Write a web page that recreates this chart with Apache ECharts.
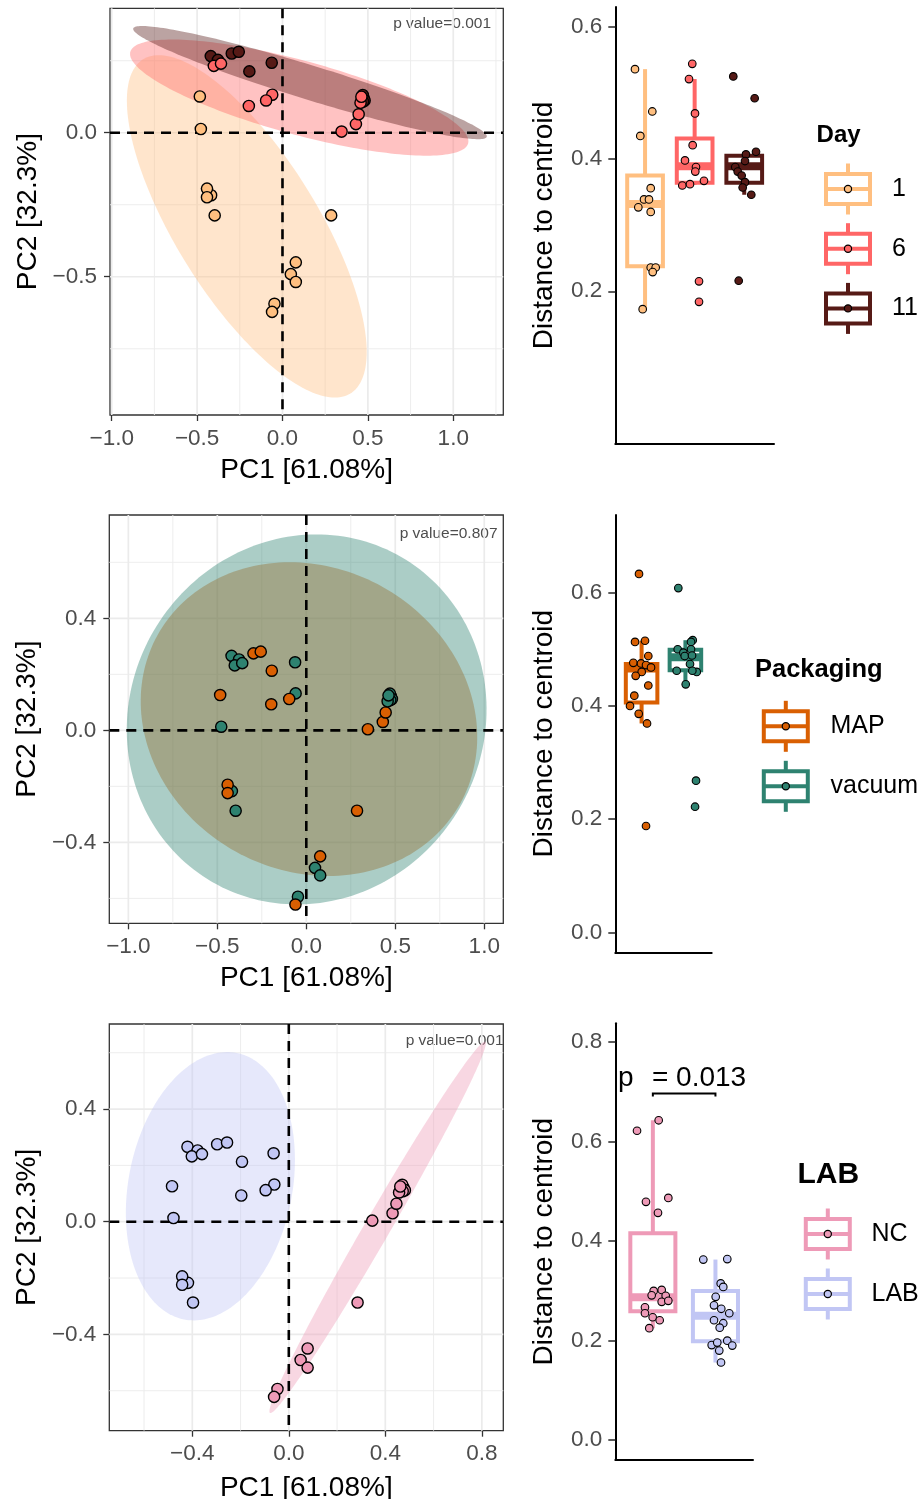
<!DOCTYPE html>
<html>
<head>
<meta charset="utf-8">
<title>PCA and distance to centroid</title>
<script src="https://cdn.jsdelivr.net/npm/echarts@6.0.0/dist/echarts.min.js"></script>
<style>
html, body { margin:0; padding:0; background:#fff; }
#chart { width:924px; height:1499px; }
</style>
</head>
<body>
<div id="chart"></div>
<script>
// ================= DATA =================
// PCA scores of the samples (PC1, PC2)
const pc1 = [-0.420,-0.378,-0.402,-0.360,-0.297,-0.256,-0.063,-0.194,-0.484,-0.060,-0.096,-0.197,-0.478,-0.418,-0.442,-0.442,-0.397,
             0.285,0.078,0.049,0.078,-0.047,-0.061,0.346,0.430,0.446,
             0.475,0.466,0.470,0.481,0.472,0.457,0.462];
const pc2 = [0.266,0.253,0.232,0.240,0.275,0.281,0.243,0.213,0.126,0.132,0.112,0.093,0.013,-0.217,-0.194,-0.224,-0.287,
             -0.287,-0.450,-0.491,-0.518,-0.594,-0.622,0.004,0.030,0.064,
             0.122,0.118,0.131,0.112,0.108,0.104,0.125];
// group of every sample (index into the level lists)
const sampleDay  = [2,2,1,1,2,2,2,2,0,1,1,1,0,0,0,0,0, 0,0,0,0,0,0,1,1,1, 2,2,2,2,2,1,1];
const samplePack = [1,1,1,1,0,0,1,0,0,1,0,0,1,1,0,0,1, 0,0,1,1,1,0,0,0,0, 0,0,1,1,1,1,1];
const sampleLab  = [1,1,1,1,1,1,1,1,1,1,1,1,1,1,1,1,1, 0,0,0,0,0,0,0,0,0, 0,0,0,0,0,0,0];

const dayLevels  = ['1', '6', '11'];
const packLevels = ['MAP', 'vacuum'];
const labLevels  = ['NC', 'LAB'];

const dayColors  = ['#FFBF80', '#FF6666', '#561A16'];
const packColors = ['#D95F02', '#2E8270'];
const labColors  = ['#EE9AB7', '#C1C6F4'];

// confidence ellipses: [cx, cy, ax, ay, bx, by] (centre + two conjugate semi-axes, PC units)
const dayEllipses = [
  [-0.209, -0.325, 0.607, -0.580, -0.353, -0.130],
  [ 0.098,  0.122, 0.989, -0.159, -0.057, -0.124],
  [ 0.161,  0.174, 1.035, -0.188, -0.029, -0.057]
];
const packEllipses = [
  [0.015, 0.040, 0.851, -0.300, -0.412, -0.473],
  [0.002, 0.039, 0.558,  0.570,  0.843, -0.334]
];
const labEllipses = [
  [ 0.368, -0.020, 0.446, 0.659, 0.046, -0.023],
  [-0.325,  0.126, 0.109, 0.473, 0.333, -0.056]
];

const pcaPValues = ['p value=0.001', 'p value=0.807', 'p value=0.001'];

// axis extents and ticks of the PCA panels
const pcaXRange = [[-1.010, 1.293], [-1.107, 1.107], [-0.744, 0.889]];
const pcaYRange = [[-0.980, 0.432], [-0.689, 0.769], [-0.742, 0.702]];
const pcaXMajor = [[-1, -0.5, 0, 0.5, 1], [-1, -0.5, 0, 0.5, 1], [-0.4, 0, 0.4, 0.8]];
const pcaXMinor = [[-0.75, -0.25, 0.25, 0.75, 1.25], [-0.75, -0.25, 0.25, 0.75], [-0.6, -0.2, 0.2, 0.6]];
const pcaYMajor = [[-0.5, 0], [-0.4, 0, 0.4], [-0.4, 0, 0.4]];
const pcaYMinor = [[-0.75, -0.25, 0.25], [-0.6, -0.2, 0.2, 0.6], [-0.6, -0.2, 0.2, 0.6]];

// distance to centroid: box statistics [lower whisker, Q1, median, Q3, upper whisker]
const dayBox  = [[0.173, 0.238, 0.332, 0.375, 0.536], [0.361, 0.364, 0.389, 0.431, 0.521], [0.346, 0.364, 0.389, 0.405, 0.411]];
const packBox = [[0.369, 0.406, 0.466, 0.474, 0.515], [0.438, 0.463, 0.486, 0.499, 0.516]];
const labBox  = [[0.225, 0.259, 0.287, 0.416, 0.643], [0.156, 0.199, 0.250, 0.300, 0.363]];

// individual distances and their jittered x position (category units)
const dayDist = [
  [0.536,0.472,0.435,0.356,0.339,0.339,0.327,0.320,0.236,0.236,0.229,0.173],
  [0.544,0.521,0.469,0.421,0.398,0.388,0.381,0.360,0.362,0.367,0.215,0.184],
  [0.525,0.492,0.411,0.407,0.397,0.388,0.381,0.375,0.365,0.357,0.346,0.216]
];
const dayJit = [
  [0.797,1.146,0.904,1.114,0.979,1.079,0.864,1.114,1.114,1.214,1.154,0.952],
  [1.952,1.886,2.007,1.960,1.805,2.027,2.013,1.751,1.906,2.188,2.088,2.088],
  [2.779,3.210,3.237,3.035,3.015,2.819,2.868,2.948,3.015,2.968,3.142,2.888]
];
const packDist = [
  [0.633,0.513,0.515,0.488,0.476,0.475,0.472,0.468,0.460,0.453,0.436,0.418,0.400,0.386,0.369,0.188],
  [0.608,0.516,0.513,0.500,0.500,0.494,0.488,0.489,0.474,0.462,0.460,0.462,0.438,0.268,0.222]
];
const packJit = [
  [0.941,0.850,1.078,1.153,0.811,0.987,1.101,1.215,1.002,0.865,1.153,0.834,0.736,0.934,1.124,1.101],
  [1.838,2.167,2.128,1.824,2.128,1.953,1.984,2.151,2.105,1.801,2.258,2.158,2.007,2.242,2.220]
];
const labDist = [
  [0.643,0.622,0.479,0.487,0.457,0.300,0.302,0.291,0.290,0.278,0.280,0.267,0.255,0.247,0.241,0.225],
  [0.363,0.364,0.315,0.308,0.288,0.271,0.264,0.255,0.241,0.235,0.226,0.200,0.191,0.196,0.190,0.180,0.156]
];
const labJit = [
  [1.093,0.747,0.890,1.247,1.082,1.013,1.141,0.981,1.205,1.141,1.247,0.874,0.874,0.997,1.109,0.943],
  [1.806,2.189,2.084,2.125,2.004,1.977,2.093,2.221,1.977,2.125,2.068,2.189,1.940,2.029,2.269,2.061,2.089]
];
const boxYRange = [[-0.031, 0.630], [-0.035, 0.737], [-0.040, 0.838]];
const boxYTicks = [[0.2, 0.4, 0.6], [0, 0.2, 0.4, 0.6], [0, 0.2, 0.4, 0.6, 0.8]];
const boxXRange = [[0.4, 3.6], [0.4, 2.6], [0.4, 2.6]];

// Wilcoxon test between NC and LAB
const labTest = { from: 1, to: 2, y: 0.697, tickDrop: 0.006, prefix: 'p', label: '= 0.013' };

// ================= LAYOUT / STYLE =================
const FONT = '"Liberation Sans", Arial, Helvetica, sans-serif';
const TICK_FONT = 22.5;
const GRIDS = [
  { left: 110,   top: 8.3,    width: 393.3, height: 406.7 },
  { left: 109.3, top: 515,    width: 394,   height: 408.3 },
  { left: 109.3, top: 1024,   width: 394,   height: 406.7 },
  { left: 615.3, top: 7,      width: 158.7, height: 437 },
  { left: 615.3, top: 515,    width: 96.4,  height: 437.3 },
  { left: 615.3, top: 1023.3, width: 137.7, height: 436.7 }
];
const PCA_XNAMEGAP = [41, 41, 44];
const LINE_STYLES = [
  { stroke: '#EBEBEB', lineWidth: 0.9 },
  { stroke: '#EBEBEB', lineWidth: 1.7 },
  { stroke: '#000000', lineWidth: 2.6, lineDash: [10, 7] }
];
const BOX_HALF = 0.36;

const fmt1 = v => (Math.abs(v) < 1e-9 ? 0 : v).toFixed(1).replace('-', '\u2212');

const pcaPanels = [
  { groups: sampleDay,  colors: dayColors,  ellipses: dayEllipses },
  { groups: samplePack, colors: packColors, ellipses: packEllipses },
  { groups: sampleLab,  colors: labColors,  ellipses: labEllipses }
];
const boxPanels = [
  { box: dayBox,  dist: dayDist,  jit: dayJit,  colors: dayColors },
  { box: packBox, dist: packDist, jit: packJit, colors: packColors },
  { box: labBox,  dist: labDist,  jit: labJit,  colors: labColors }
];

const xAxes = [], yAxes = [], series = [];

function lineSeries(ax, items, z) {
  return {
    type: 'custom', xAxisIndex: ax, yAxisIndex: ax, z: z, silent: true, clip: false,
    data: items,
    renderItem: function (params, api) {
      const cs = params.coordSys;
      const o = api.value(2), kind = api.value(3);
      const p = api.coord([api.value(0), api.value(1)]);
      const shape = o === 0
        ? { x1: p[0], y1: cs.y, x2: p[0], y2: cs.y + cs.height }
        : { x1: cs.x, y1: p[1], x2: cs.x + cs.width, y2: p[1] };
      return { type: 'line', shape: shape, style: Object.assign({}, LINE_STYLES[kind]) };
    }
  };
}

pcaPanels.forEach((P, k) => {
  xAxes.push({
    gridIndex: k, type: 'value', min: pcaXRange[k][0], max: pcaXRange[k][1],
    name: 'PC1 [61.08%]', nameLocation: 'middle', nameGap: PCA_XNAMEGAP[k],
    nameTextStyle: { fontSize: 28, color: '#000', fontFamily: FONT },
    axisLine: { show: false, onZero: false },
    axisTick: { show: true, customValues: pcaXMajor[k], length: 6, lineStyle: { color: '#333', width: 1.3 } },
    axisLabel: { show: true, customValues: pcaXMajor[k], formatter: fmt1, fontSize: TICK_FONT, color: '#4D4D4D', margin: 12, fontFamily: FONT },
    splitLine: { show: false }
  });
  yAxes.push({
    gridIndex: k, type: 'value', min: pcaYRange[k][0], max: pcaYRange[k][1],
    name: 'PC2 [32.3%]', nameLocation: 'middle', nameGap: 68,
    nameTextStyle: { fontSize: 28, color: '#000', fontFamily: FONT },
    axisLine: { show: false, onZero: false },
    axisTick: { show: true, customValues: pcaYMajor[k], length: 6, lineStyle: { color: '#333', width: 1.3 } },
    axisLabel: { show: true, customValues: pcaYMajor[k], formatter: fmt1, fontSize: TICK_FONT, color: '#4D4D4D', margin: 13, fontFamily: FONT },
    splitLine: { show: false }
  });
  const gl = [];
  pcaXMinor[k].forEach(v => gl.push([v, 0, 0, 0]));
  pcaYMinor[k].forEach(v => gl.push([0, v, 1, 0]));
  pcaXMajor[k].forEach(v => gl.push([v, 0, 0, 1]));
  pcaYMajor[k].forEach(v => gl.push([0, v, 1, 1]));
  series.push(lineSeries(k, gl, 1));
  // ellipses
  series.push({
    type: 'custom', xAxisIndex: k, yAxisIndex: k, z: 2, silent: true, clip: true,
    data: P.ellipses.map((e, i) => [e[0], e[1], i]),
    renderItem: function (params, api) {
      const i = api.value(2), e = P.ellipses[i];
      const pts = [];
      for (let j = 0; j < 200; j++) {
        const t = 2 * Math.PI * j / 200;
        pts.push(api.coord([e[0] + e[2] * Math.cos(t) + e[4] * Math.sin(t),
                            e[1] + e[3] * Math.cos(t) + e[5] * Math.sin(t)]));
      }
      return { type: 'polygon', shape: { points: pts }, style: { fill: P.colors[i], opacity: 0.4 } };
    }
  });
  // dashed zero lines
  series.push(lineSeries(k, [[0, 0, 0, 2], [0, 0, 1, 2]], 3));
  // samples
  series.push({
    type: 'scatter', xAxisIndex: k, yAxisIndex: k, z: 4, silent: true,
    symbol: 'circle', symbolSize: 11.2,
    data: pc1.map((x, i) => ({ value: [x, pc2[i]], itemStyle: { color: P.colors[P.groups[i]] } })),
    itemStyle: { borderColor: '#000', borderWidth: 1.4, opacity: 1 }
  });
});

boxPanels.forEach((B, k) => {
  const gi = 3 + k;
  xAxes.push({
    gridIndex: gi, type: 'value', min: boxXRange[k][0], max: boxXRange[k][1],
    axisLine: { show: true, onZero: false, lineStyle: { color: '#000', width: 2 } },
    axisTick: { show: false }, axisLabel: { show: false }, splitLine: { show: false }
  });
  yAxes.push({
    gridIndex: gi, type: 'value', min: boxYRange[k][0], max: boxYRange[k][1],
    name: 'Distance to centroid', nameLocation: 'middle', nameGap: 57,
    nameTextStyle: { fontSize: 28, color: '#000', fontFamily: FONT },
    axisLine: { show: true, onZero: false, lineStyle: { color: '#000', width: 2 } },
    axisTick: { show: true, customValues: boxYTicks[k], length: 7, lineStyle: { color: '#333', width: 1.6 } },
    axisLabel: { show: true, customValues: boxYTicks[k], formatter: fmt1, fontSize: TICK_FONT, color: '#4D4D4D', margin: 13, fontFamily: FONT },
    splitLine: { show: false }
  });
  series.push({
    type: 'custom', xAxisIndex: gi, yAxisIndex: gi, z: 2, silent: true, clip: false,
    data: B.box.map((s, i) => [i + 1, s[0], s[1], s[2], s[3], s[4], i]),
    renderItem: function (params, api) {
      const c = api.value(0), lo = api.value(1), q1 = api.value(2), md = api.value(3), q3 = api.value(4), hi = api.value(5);
      const col = B.colors[api.value(6)];
      const tl = api.coord([c - BOX_HALF, q3]), br = api.coord([c + BOX_HALF, q1]);
      const pHi = api.coord([c, hi]), pQ3 = api.coord([c, q3]), pQ1 = api.coord([c, q1]), pLo = api.coord([c, lo]);
      const mL = api.coord([c - BOX_HALF, md]), mR = api.coord([c + BOX_HALF, md]);
      return { type: 'group', children: [
        { type: 'line', shape: { x1: pHi[0], y1: pHi[1], x2: pQ3[0], y2: pQ3[1] }, style: { stroke: col, lineWidth: 4 } },
        { type: 'line', shape: { x1: pLo[0], y1: pLo[1], x2: pQ1[0], y2: pQ1[1] }, style: { stroke: col, lineWidth: 4 } },
        { type: 'rect', shape: { x: tl[0], y: tl[1], width: br[0] - tl[0], height: br[1] - tl[1] }, style: { fill: '#fff', stroke: col, lineWidth: 4 } },
        { type: 'line', shape: { x1: mL[0], y1: mL[1], x2: mR[0], y2: mR[1] }, style: { stroke: col, lineWidth: 8 } }
      ] };
    }
  });
  const pts = [];
  B.dist.forEach((arr, g) => arr.forEach((v, j) => pts.push({ value: [B.jit[g][j], v], itemStyle: { color: B.colors[g] } })));
  series.push({
    type: 'scatter', xAxisIndex: gi, yAxisIndex: gi, z: 3, silent: true,
    symbol: 'circle', symbolSize: 7.6, data: pts,
    itemStyle: { borderColor: '#000', borderWidth: 1.1, opacity: 1 }
  });
});

// significance bracket on the LAB boxplot
series.push({
  type: 'custom', xAxisIndex: 5, yAxisIndex: 5, z: 4, silent: true, clip: false,
  data: [[labTest.from, labTest.y, labTest.to]],
  renderItem: function (params, api) {
    const a = api.value(0), y = api.value(1), b = api.value(2);
    const p1 = api.coord([a, y - labTest.tickDrop]), p2 = api.coord([a, y]), p3 = api.coord([b, y]), p4 = api.coord([b, y - labTest.tickDrop]);
    const tp = api.coord([0.443, 0.727]), tl = api.coord([0.986, 0.727]);
    return { type: 'group', children: [
      { type: 'polyline', shape: { points: [p1, p2, p3, p4] }, style: { stroke: '#000', lineWidth: 2, fill: null } },
      { type: 'text', style: { text: labTest.prefix, x: tp[0], y: tp[1], font: '28px ' + FONT, fill: '#000', align: 'left', verticalAlign: 'middle', textAlign: 'left', textVerticalAlign: 'middle' } },
      { type: 'text', style: { text: labTest.label, x: tl[0], y: tl[1], font: '28px ' + FONT, fill: '#000', align: 'left', verticalAlign: 'middle', textAlign: 'left', textVerticalAlign: 'middle' } }
    ] };
  }
});

// ================= LEGENDS & ANNOTATIONS =================
function txt(text, x, y, size, opts) {
  opts = opts || {};
  const al = opts.align || 'left';
  return { type: 'text', silent: true, style: {
    text: text, x: x, y: y, font: (opts.bold ? 'bold ' : '') + size + 'px ' + FONT,
    fill: opts.color || '#000', align: al, verticalAlign: 'middle', textAlign: al, textVerticalAlign: 'middle' } };
}
function legend(title, titleSize, tx, ty, kx, ky0, step, lx, levels, colors) {
  const els = [txt(title, tx, ty, titleSize, { bold: true })];
  levels.forEach((lv, i) => {
    const cy = ky0 + i * step, col = colors[i];
    els.push({ type: 'line', silent: true, shape: { x1: kx, y1: cy - 25.5, x2: kx, y2: cy + 25.5 }, style: { stroke: col, lineWidth: 4 } });
    els.push({ type: 'rect', silent: true, shape: { x: kx - 22, y: cy - 15, width: 44, height: 30 }, style: { fill: '#fff', stroke: col, lineWidth: 4 } });
    els.push({ type: 'line', silent: true, shape: { x1: kx - 22, y1: cy, x2: kx + 22, y2: cy }, style: { stroke: col, lineWidth: 4 } });
    els.push({ type: 'circle', silent: true, shape: { cx: kx, cy: cy, r: 3.6 }, style: { fill: col, stroke: '#000', lineWidth: 1.2 } });
    els.push(txt(lv, lx, cy, 25));
  });
  return els;
}
const graphics = [].concat(
  legend('Day', 24, 816.6, 135, 848, 189, 59.7, 892, dayLevels, dayColors),
  legend('Packaging', 25.5, 755, 669.5, 785.8, 726.3, 60, 830.5, packLevels, packColors),
  legend('LAB', 30, 797.5, 1174.5, 827.8, 1234, 60, 871.5, labLevels, labColors),
  [txt(pcaPValues[0], 491, 24, 15.5, { align: 'right', color: '#4D4D4D' }),
   txt(pcaPValues[1], 497.5, 534.2, 15.5, { align: 'right', color: '#4D4D4D' }),
   txt(pcaPValues[2], 503.5, 1040.5, 15.5, { align: 'right', color: '#4D4D4D' })]
);

const option = {
  animation: false,
  backgroundColor: '#ffffff',
  textStyle: { fontFamily: FONT },
  grid: GRIDS.map((g, i) => Object.assign({
    containLabel: false, outerBoundsMode: 'none',
    show: i < 3, borderColor: '#333333', borderWidth: 1.3, backgroundColor: i < 3 ? '#ffffff' : 'transparent'
  }, g)),
  xAxis: xAxes,
  yAxis: yAxes,
  series: series,
  graphic: { elements: graphics }
};

const chart = echarts.init(document.getElementById('chart'), null, { renderer: 'canvas', width: 924, height: 1499 });
chart.setOption(option);
</script>
</body>
</html>
